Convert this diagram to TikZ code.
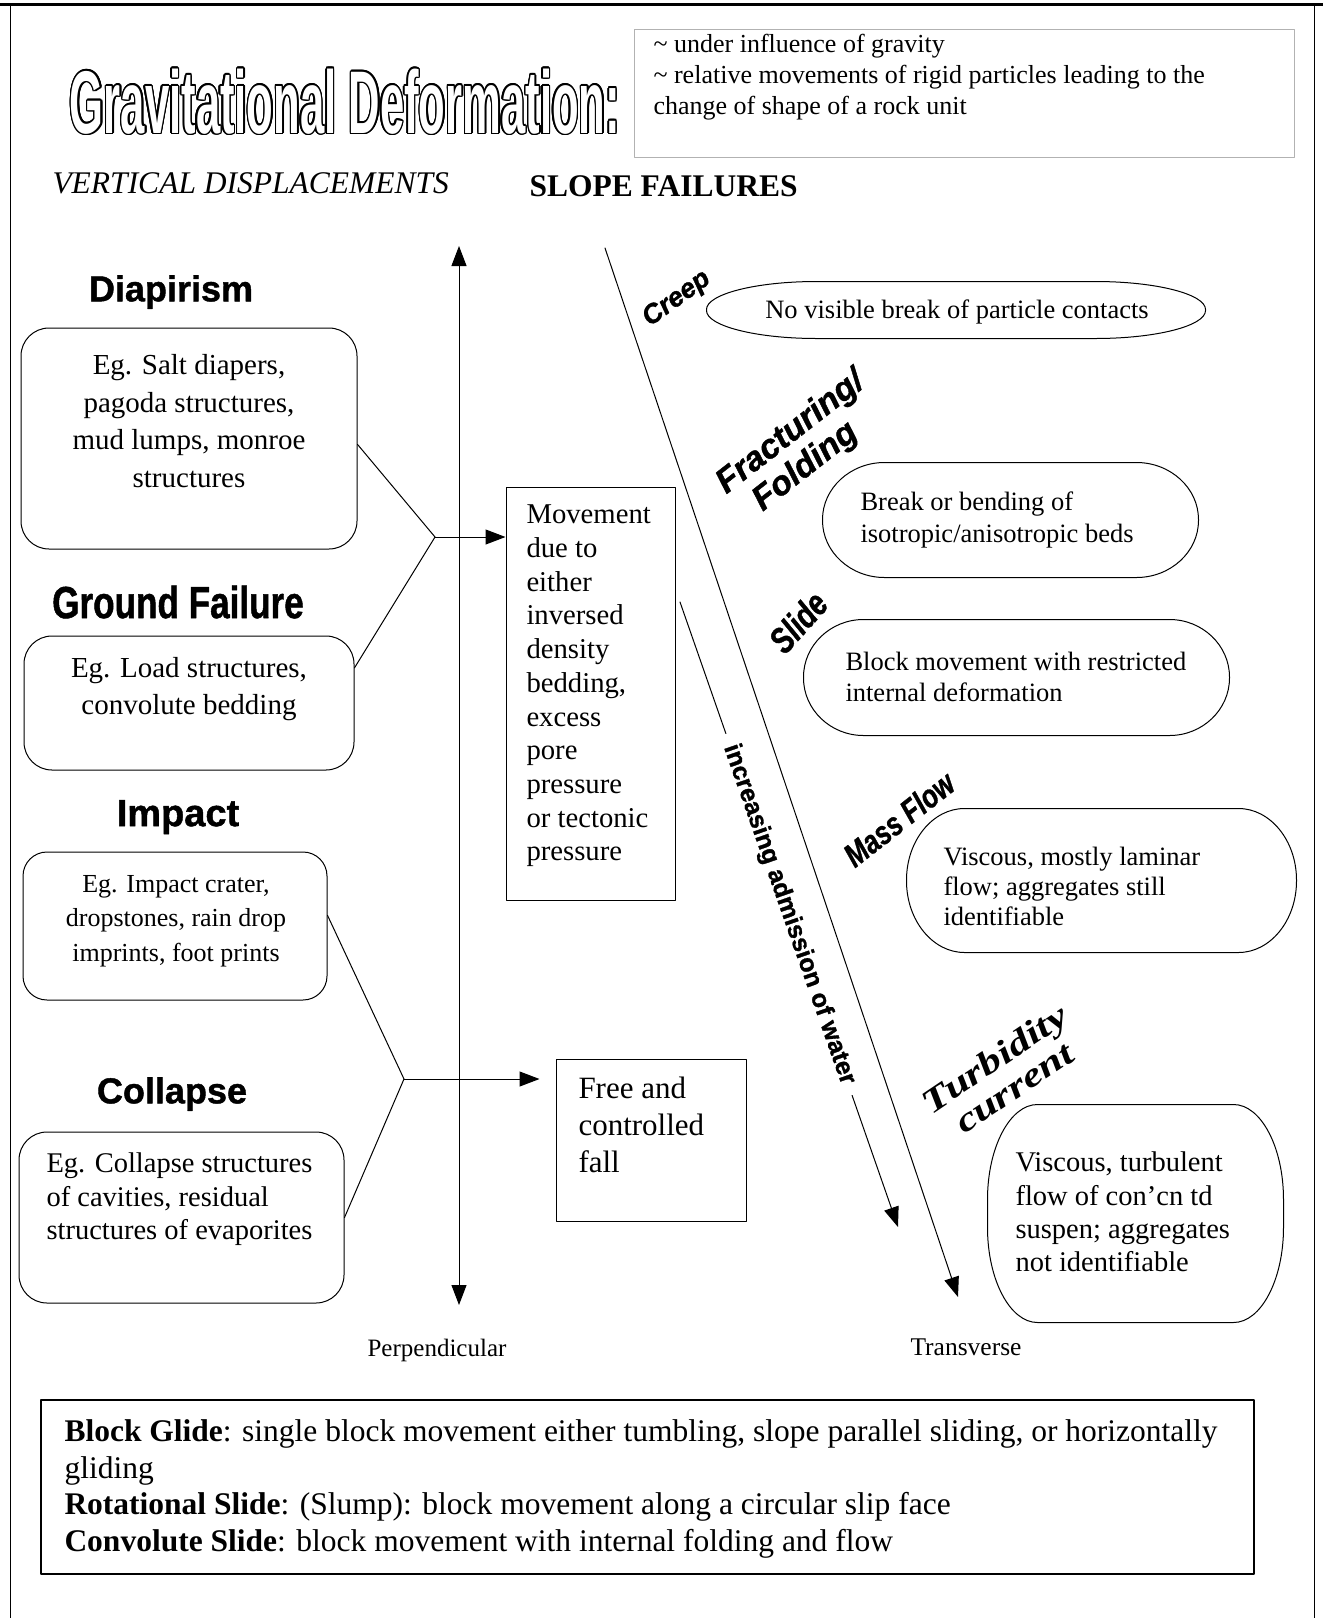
\documentclass[tikz,border=0pt]{standalone}
\usepackage{fontspec}
\setmainfont{Liberation Serif}
\newfontfamily\heavyfont{Liberation Sans}[FakeBold=1.2]
\newfontfamily\condfont{Liberation Sans}[FakeStretch=0.78,FakeBold=1]
\newfontfamily\titlefont{Liberation Sans}[FakeStretch=0.49]
\newfontfamily\wideserif{Liberation Serif}[FakeStretch=1.3]
\usepackage{contour}
\contourlength{1.5pt}
\usetikzlibrary{calc,arrows.meta}

\newcommand\fsz[2]{\fontsize{#1}{#2}\selectfont}
% frame with elliptical corners round a node: name, x radius, y radius
\newcommand\softframe[3]{%
  \draw ($(#1.north west)+(#2,0)$) -- ($(#1.north east)+(-#2,0)$)
    .. controls ($(#1.north east)+(-0.45*#2,0)$) and ($(#1.north east)+(0,0.45*#3)$) .. ($(#1.north east)+(0,#3)$)
    -- ($(#1.south east)+(0,-#3)$)
    .. controls ($(#1.south east)+(0,-0.45*#3)$) and ($(#1.south east)+(-0.45*#2,0)$) .. ($(#1.south east)+(-#2,0)$)
    -- ($(#1.south west)+(#2,0)$)
    .. controls ($(#1.south west)+(0.45*#2,0)$) and ($(#1.south west)+(0,-0.45*#3)$) .. ($(#1.south west)+(0,-#3)$)
    -- ($(#1.north west)+(0,#3)$)
    .. controls ($(#1.north west)+(0,0.45*#3)$) and ($(#1.north west)+(0.45*#2,0)$) .. cycle;}

\begin{document}
\begin{tikzpicture}[x=1pt, y=-1pt, line width=1pt, line cap=round, line join=round,
	>={Triangle[length=20pt, width=15pt]},
	leftbox/.style={draw, rounded corners=28pt, inner sep=0pt},
	plainbox/.style={draw, inner sep=0pt},
	softbox/.style={inner sep=0pt},
	txt/.style={inner sep=0pt, align=#1},
	txt/.default=left,
	heading/.style={inner sep=0pt, font=\heavyfont\bfseries\fsz{#1}{#1}},
	tilted/.style={inner sep=0pt, align=center, rotate=#1}]
	\useasboundingbox (0,0) rectangle (1323,1618);

	% page frame
	\draw[line width=3pt] (0,4) -- (1323,4);
	\draw (10,4) -- (10,1618);
	\draw (1314,4) -- (1314,1618);

	\node[text=white, inner sep=0pt, font=\titlefont\bfseries\fsz{89}{89}] (title) at (345,102) {\contour{black}{Gravitational Deformation:}};
	\node[plainbox, draw=gray!60, minimum width=660pt, minimum height=128pt] (defbox) at (964,93) {};
	\node[txt, anchor=west, font=\fsz{26}{31}] (deftxt) at (653,77.5) {\textasciitilde{} under influence of gravity\\\textasciitilde{} relative movements of rigid particles leading to the\\change of shape of a rock unit};

	\node[inner sep=0pt, anchor=west, font=\itshape\fsz{31.5}{36}] (vert) at (52,183) {VERTICAL DISPLACEMENTS};
	\node[inner sep=0pt, anchor=west, font=\bfseries\fsz{31.5}{36}] (slope) at (529,186) {SLOPE FAILURES};

	\node[heading=36] (diaph) at (171,292) {Diapirism};
	\node[leftbox, minimum width=336pt, minimum height=221pt] (diap) at (189,438.5) {};
	\node[txt=center, font=\fsz{29}{37.5}] (diaptxt) at (189,421) {Eg. Salt diapers,\\pagoda structures,\\mud lumps, monroe\\structures};

	\node[inner sep=0pt, font=\condfont\bfseries\fsz{45}{45}] (groundh) at (178,602) {Ground Failure};
	\node[leftbox, minimum width=330pt, minimum height=134pt] (ground) at (189,703) {};
	\node[txt=center, font=\fsz{29}{37}] (groundtxt) at (189,689.5) {Eg. Load structures,\\convolute bedding};

	\node[heading=38] (impacth) at (178,817) {Impact};
	\node[leftbox, rounded corners=24pt, minimum width=304pt, minimum height=148pt] (impact) at (175,926) {};
	\node[txt=center, font=\fsz{26}{34.5}] (impacttxt) at (176,921) {Eg. Impact crater,\\dropstones, rain drop\\imprints, foot prints};

	\node[heading=36] (collapseh) at (172,1094) {Collapse};
	\node[leftbox, minimum width=325pt, minimum height=171pt] (collapse) at (181.5,1217.5) {};
	\node[txt, anchor=west, font=\fsz{28.5}{33.5}] (collapsetxt) at (46,1199.5) {Eg. Collapse structures\\of cavities, residual\\structures of evaporites};

	\coordinate (axtop) at (459,246);
	\coordinate (axbot) at (459,1305);
	\draw[<->] (axtop) -- (axbot);
	\node[inner sep=0pt, font=\fsz{25}{30}] (perp) at (437,1350) {Perpendicular};

	\node[plainbox, minimum width=169pt, minimum height=413pt] (mov) at (590.5,693.5) {};
	\node[txt, anchor=west, font=\fsz{28.7}{33.7}] (movtxt) at (526,686) {Movement\\due to\\either\\inversed\\density\\bedding,\\excess\\pore\\pressure\\or tectonic\\pressure};

	\node[plainbox, minimum width=190pt, minimum height=162pt] (free) at (651,1140) {};
	\node[txt, anchor=west, font=\fsz{31}{37}] (freetxt) at (578,1125) {Free and\\controlled\\fall};

	\coordinate (j1) at (435,537);
	\coordinate (j2) at (404,1079);
	\path (diap.-2) edge (j1)
	(ground.12) edge (j1)
	(impact.4) edge (j2)
	(collapse.east) edge (j2)
	(j1) edge[->] (j1 -| mov.west)
	(j2) edge[->, shorten >=16pt] (j2 -| free.west);

	\coordinate (sltop) at (605,248);
	\coordinate (slbot) at (958,1297);
	\draw[->] (sltop) -- (slbot);
	\node[inner sep=0pt, font=\fsz{25.5}{30}] (trans) at (966,1347) {Transverse};

	\coordinate (wtop) at (680,602);
	\coordinate (wbot) at (898,1227);
	\draw[->] (wtop) -- node[sloped, fill=white, inner xsep=12pt, inner ysep=1pt, font=\heavyfont\bfseries\fsz{25}{25}] (water) {increasing admission of water} (wbot);

	\node[softbox, minimum width=498pt, minimum height=56pt] (creep) at (956,310) {};
	\node[inner sep=0pt, font=\fsz{26.5}{30}] (creeptxt) at (957,312) {No visible break of particle contacts};
	\node[tilted=36, font=\heavyfont\bfseries\itshape\fsz{27}{27}] (creeph) at (677,299) {Creep};

	\node[softbox, minimum width=375pt, minimum height=114pt] (frac) at (1010.5,520) {};
	\node[txt, anchor=west, font=\fsz{26.5}{32}] (fractxt) at (860,520) {Break or bending of\\isotropic/anisotropic beds};
	\node[tilted=38, align=left, font=\heavyfont\bfseries\itshape\fsz{34}{36}] (frach) at (802,447) {Fracturing/\\\hspace*{18pt}Folding};

	\node[softbox, minimum width=425pt, minimum height=115pt] (slide) at (1016.5,677.5) {};
	\node[txt, anchor=west, font=\fsz{26.5}{31}] (slidetxt) at (845,676.5) {Block movement with restricted\\internal deformation};
	\node[tilted=48, font=\condfont\bfseries\itshape\fsz{36}{36}] (slideh) at (798,622) {Slide};

	\node[softbox, minimum width=389pt, minimum height=143pt] (mass) at (1101.5,880.5) {};
	\node[txt, anchor=west, font=\fsz{26.5}{30}] (masstxt) at (943,886) {Viscous, mostly laminar\\flow; aggregates still\\identifiable};
	\node[tilted=38, font=\condfont\bfseries\itshape\fsz{33}{33}] (massh) at (899,819) {Mass Flow};

	\node[softbox, minimum width=295pt, minimum height=217pt] (turb) at (1135.5,1213.5) {};
	\node[txt, anchor=west, font=\fsz{28.5}{33.3}] (turbtxt) at (1015,1212) {Viscous, turbulent\\flow of con’cn td\\suspen; aggregates\\not identifiable};
	\node[tilted=34, font=\wideserif\bfseries\itshape\fsz{34}{35}] (turbh) at (1004,1073) {Turbidity\\current};

	\softframe{creep}{110}{28}
	\softframe{frac}{62}{57}
	\softframe{slide}{60}{57.5}
	\softframe{mass}{58}{71.5}
	\softframe{turb}{50}{95}

	\node[plainbox, line width=1.5pt, minimum width=1213pt, minimum height=174pt] (glide) at (647.5,1487) {};
	\node[txt, anchor=west, font=\fsz{31.5}{36.7}] (glidetxt) at (64,1489) {\textbf{Block Glide}: single block movement either tumbling, slope parallel sliding, or horizontally\\gliding\\\textbf{Rotational Slide}: (Slump): block movement along a circular slip face\\\textbf{Convolute Slide}: block movement with internal folding and flow};
\end{tikzpicture}
\end{document}
